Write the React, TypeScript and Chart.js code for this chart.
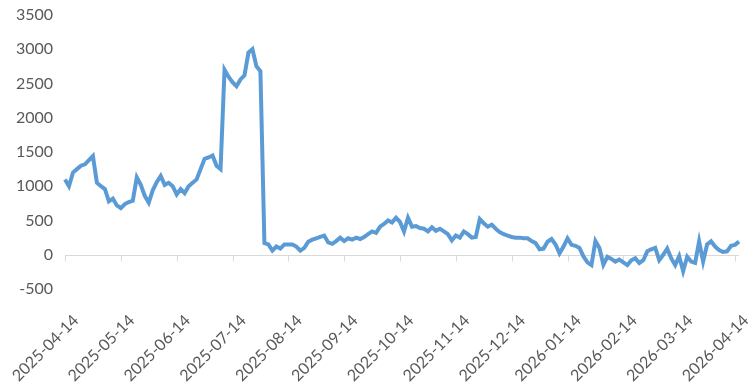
import React, { useEffect, useRef } from "react";
import { Chart, registerables } from "chart.js";

Chart.register(...registerables);

const tickLabels = [
  "2025-04-14", "2025-05-14", "2025-06-14", "2025-07-14", "2025-08-14",
  "2025-09-14", "2025-10-14", "2025-11-14", "2025-12-14", "2026-01-14",
  "2026-02-14", "2026-03-14", "2026-04-14",
];

const POINTS_PER_MONTH = 14;

const values = [
  1100, 1000, 1200, 1250, 1300, 1320, 1380, 1440, 1050, 1000,
  960, 780, 820, 720, 680, 740, 770, 790, 1130, 1020,
  860, 760, 940, 1060, 1150, 1020, 1050, 1000, 880, 960,
  900, 1000, 1050, 1100, 1250, 1400, 1420, 1450, 1300, 1250,
  2700, 2600, 2520, 2460, 2560, 2620, 2950, 3000, 2750, 2680,
  170, 150, 60, 120, 90, 150, 150, 150, 120, 60,
  100, 190, 220, 240, 260, 280, 180, 160, 200, 250,
  200, 240, 220, 250, 230, 260, 300, 340, 320, 410,
  450, 500, 470, 540, 480, 340, 540, 410, 420, 390,
  380, 340, 400, 350, 380, 340, 300, 210, 280, 250,
  340, 300, 250, 260, 520, 460, 410, 440, 380, 330,
  300, 280, 260, 250, 250, 240, 240, 200, 170, 80,
  90, 190, 230, 150, 20, 120, 240, 145, 130, 100,
  -25, -110, -150, 200, 100, -145, -30, -60, -100, -70,
  -110, -150, -80, -50, -120, -80, 50, 80, 100, -80,
  0, 90, -50, -150, -20, -240, -30, -100, -120, 195,
  -100, 150, 195, 120, 70, 40, 50, 130, 145, 195,
];

const categories = values.map((_, i) =>
  i % POINTS_PER_MONTH === 0 && i / POINTS_PER_MONTH < tickLabels.length
    ? tickLabels[i / POINTS_PER_MONTH]
    : ""
);

const zeroAxisPlugin = {
  id: "zeroAxis",
  beforeDatasetsDraw(chart: any) {
    const { ctx, chartArea, scales } = chart;
    const y0 = Math.round(scales.y.getPixelForValue(0)) + 0.5;
    ctx.save();
    ctx.strokeStyle = "#d9d9d9";
    ctx.lineWidth = 1;
    ctx.beginPath();
    ctx.moveTo(chartArea.left, y0);
    ctx.lineTo(chartArea.right, y0);
    for (let i = 0; i < tickLabels.length; i++) {
      const x = Math.round(scales.x.getPixelForValue(i * POINTS_PER_MONTH)) + 0.5;
      ctx.moveTo(x, y0);
      ctx.lineTo(x, y0 + 6);
    }
    ctx.stroke();
    ctx.restore();
  },
};

export default function App() {
  const ref = useRef<HTMLCanvasElement>(null);
  useEffect(() => {
    document.body.style.margin = "0";
    const chart = new Chart(ref.current!, {
      type: "line",
      data: {
        labels: categories,
        datasets: [
          {
            data: values,
            borderColor: "#5b9bd5",
            borderWidth: 4,
            pointRadius: 0,
            tension: 0,
            fill: false,
          },
        ],
      },
      options: {
        animation: false,
        responsive: false,
        maintainAspectRatio: false,
        layout: { padding: { top: 15, right: 13, left: 0, bottom: 0 } },
        plugins: { legend: { display: false }, tooltip: { enabled: false } },
        scales: {
          x: {
            grid: { display: false, drawTicks: false },
            border: { display: false },
            afterBuildTicks: (s: any) => {
              s.ticks = s.ticks.filter(
                (t: any) =>
                  t.value % POINTS_PER_MONTH === 0 &&
                  t.value / POINTS_PER_MONTH < tickLabels.length
              );
            },
            afterFit: (s: any) => {
              s.height = 102;
              s.paddingLeft = 0;
              s.paddingRight = 0;
            },
            ticks: {
              autoSkip: false,
              maxRotation: 45,
              minRotation: 45,
              padding: 22,
              labelOffset: 11,
              color: "#595959",
              font: { family: "Lato", size: 16 },
              callback: (v: any) => tickLabels[Number(v) / POINTS_PER_MONTH],
            },
          },
          y: {
            min: -500,
            max: 3500,
            grid: { display: false, drawTicks: false },
            border: { display: false },
            afterFit: (s: any) => {
              s.width = 65;
              s.paddingTop = 0;
              s.paddingBottom = 0;
            },
            ticks: {
              stepSize: 500,
              padding: 12,
              color: "#595959",
              font: { family: "Lato", size: 16 },
              callback: (v: any) => String(v),
            },
          },
        },
      },
      plugins: [zeroAxisPlugin],
    });
    return () => chart.destroy();
  }, []);
  return (
    <div style={{ width: 752, height: 391 }}>
      <canvas ref={ref} width={752} height={391} style={{ display: "block" }} />
    </div>
  );
}
